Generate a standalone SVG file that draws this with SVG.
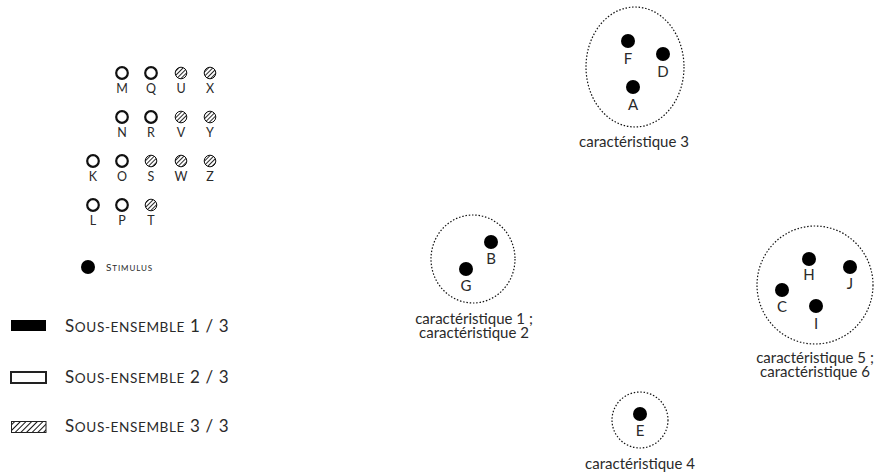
<svg xmlns="http://www.w3.org/2000/svg" width="880" height="476" viewBox="0 0 880 476">
<defs>
<pattern id="hatch" patternUnits="userSpaceOnUse" width="3" height="3" patternTransform="rotate(45)">
<line x1="0.5" y1="0" x2="0.5" y2="3" stroke="#111" stroke-width="0.9"/>
</pattern>
<pattern id="hatch2" patternUnits="userSpaceOnUse" width="4" height="4" patternTransform="rotate(45)">
<line x1="0.5" y1="0" x2="0.5" y2="4" stroke="#111" stroke-width="1"/>
</pattern>
</defs>
<style>
text{font-family:Lato,"Liberation Sans",sans-serif;font-weight:400;fill:#2a2a2a;text-anchor:middle}
.lt{font-size:12.5px}
.cl{font-size:15px}
.lg{font-size:17px;text-anchor:start;letter-spacing:0.6px}
.lg .sc{font-size:13.6px}
.st{font-size:10px;text-anchor:start;letter-spacing:0.9px}
.st .sc{font-size:8px}
.open{fill:#fff;stroke:#111;stroke-width:2.2}
.hat{fill:url(#hatch);stroke:#111;stroke-width:1}
.dot{fill:#000}
.zone{fill:none;stroke:#111;stroke-width:1.2;stroke-dasharray:1.5 1.8}
</style>
<g id="legend">
<g id="M"><circle class="open" cx="122" cy="73" r="5.8"/><text class="lt" x="122" y="93">M</text></g>
<g id="Q"><circle class="open" cx="151" cy="73" r="5.8"/><text class="lt" x="151" y="93">Q</text></g>
<g id="U"><circle class="hat" cx="181" cy="73" r="5.8"/><text class="lt" x="181" y="93">U</text></g>
<g id="X"><circle class="hat" cx="210" cy="73" r="5.8"/><text class="lt" x="210" y="93">X</text></g>
<g id="N"><circle class="open" cx="122" cy="117" r="5.8"/><text class="lt" x="122" y="137">N</text></g>
<g id="R"><circle class="open" cx="151" cy="117" r="5.8"/><text class="lt" x="151" y="137">R</text></g>
<g id="V"><circle class="hat" cx="181" cy="117" r="5.8"/><text class="lt" x="181" y="137">V</text></g>
<g id="Y"><circle class="hat" cx="210" cy="117" r="5.8"/><text class="lt" x="210" y="137">Y</text></g>
<g id="K"><circle class="open" cx="93" cy="161" r="5.8"/><text class="lt" x="93" y="181">K</text></g>
<g id="O"><circle class="open" cx="122" cy="161" r="5.8"/><text class="lt" x="122" y="181">O</text></g>
<g id="S"><circle class="hat" cx="151" cy="161" r="5.8"/><text class="lt" x="151" y="181">S</text></g>
<g id="W"><circle class="hat" cx="181" cy="161" r="5.8"/><text class="lt" x="181" y="181">W</text></g>
<g id="Z"><circle class="hat" cx="210" cy="161" r="5.8"/><text class="lt" x="210" y="181">Z</text></g>
<g id="L"><circle class="open" cx="93" cy="205" r="5.8"/><text class="lt" x="93" y="225">L</text></g>
<g id="P"><circle class="open" cx="122" cy="205" r="5.8"/><text class="lt" x="122" y="225">P</text></g>
<g id="T"><circle class="hat" cx="151" cy="205" r="5.8"/><text class="lt" x="151" y="225">T</text></g>
<g id="stimulus"><circle class="dot" cx="88" cy="267" r="7"/><text class="st" x="106" y="271">S<tspan class="sc">TIMULUS</tspan></text></g>
<g id="sub1"><rect x="11" y="320" width="35" height="11" fill="#000"/><text class="lg" x="65" y="332">S<tspan class="sc">OUS-ENSEMBLE</tspan> 1 / 3</text></g>
<g id="sub2"><rect x="11" y="372" width="35" height="11" fill="#fff" stroke="#222" stroke-width="2"/><text class="lg" x="65" y="383">S<tspan class="sc">OUS-ENSEMBLE</tspan> 2 / 3</text></g>
<g id="sub3"><rect x="11.5" y="421.5" width="34.5" height="11" fill="url(#hatch2)" stroke="#222" stroke-width="1"/><text class="lg" x="65" y="432">S<tspan class="sc">OUS-ENSEMBLE</tspan> 3 / 3</text></g>
</g>
<g id="connectors"></g>
<g id="cluster3">
<ellipse class="zone" cx="635" cy="67" rx="49" ry="60"/>
<g id="F"><circle class="dot" cx="628" cy="41" r="7"/><text class="cl" x="628" y="64">F</text></g>
<g id="D"><circle class="dot" cx="663" cy="54" r="7"/><text class="cl" x="663" y="77">D</text></g>
<g id="A"><circle class="dot" cx="633" cy="87" r="7"/><text class="cl" x="633" y="110">A</text></g>
<text class="cl" x="634" y="147">caractéristique 3</text>
</g>
<g id="cluster12">
<ellipse class="zone" cx="473" cy="259" rx="42" ry="44"/>
<g id="B"><circle class="dot" cx="491" cy="242" r="7"/><text class="cl" x="491" y="264">B</text></g>
<g id="G"><circle class="dot" cx="466" cy="269" r="7"/><text class="cl" x="466" y="291">G</text></g>
<text class="cl" x="474" y="324">caractéristique 1 ;</text>
<text class="cl" x="474" y="338">caractéristique 2</text>
</g>
<g id="cluster56">
<ellipse class="zone" cx="815" cy="285" rx="58" ry="59"/>
<g id="H"><circle class="dot" cx="809" cy="259" r="7"/><text class="cl" x="809" y="280">H</text></g>
<g id="J"><circle class="dot" cx="850" cy="267" r="7"/><text class="cl" x="850" y="289">J</text></g>
<g id="C"><circle class="dot" cx="782" cy="290" r="7"/><text class="cl" x="782" y="312">C</text></g>
<g id="I"><circle class="dot" cx="816" cy="306" r="7"/><text class="cl" x="816" y="329">I</text></g>
<text class="cl" x="815" y="363">caractéristique 5 ;</text>
<text class="cl" x="815" y="377">caractéristique 6</text>
</g>
<g id="cluster4">
<ellipse class="zone" cx="640" cy="420" rx="28" ry="28"/>
<g id="E"><circle class="dot" cx="640" cy="414" r="7"/><text class="cl" x="640" y="436">E</text></g>
<text class="cl" x="640" y="469">caractéristique 4</text>
</g>
</svg>
